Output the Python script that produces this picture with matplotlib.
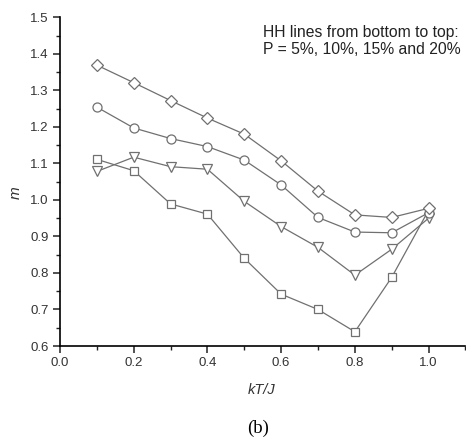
import matplotlib
matplotlib.use("Agg")
import matplotlib.pyplot as plt
from matplotlib.ticker import MultipleLocator, FormatStrFormatter

plt.rcParams['font.family'] = ['Liberation Sans', 'DejaVu Sans']

kT = [0.1, 0.2, 0.3, 0.4, 0.5, 0.6, 0.7, 0.8, 0.9, 1.0]
m_p5 = [1.111, 1.080, 0.989, 0.961, 0.840, 0.742, 0.700, 0.639, 0.788, 0.972]
m_p10 = [1.078, 1.117, 1.091, 1.084, 0.996, 0.927, 0.870, 0.794, 0.865, 0.950]
m_p15 = [1.254, 1.197, 1.168, 1.146, 1.109, 1.041, 0.952, 0.912, 0.910, 0.965]
m_p20 = [1.369, 1.321, 1.272, 1.224, 1.180, 1.107, 1.024, 0.959, 0.952, 0.977]

fig = plt.figure(figsize=(4.66, 4.41), dpi=100)
ax = fig.add_axes([0.1288, 0.2154, 0.8700, 0.7454])

lc = '#707070'
style = dict(color=lc, lw=0.9, markerfacecolor='white', markeredgecolor=lc,
             markeredgewidth=0.9)
ax.plot(kT, m_p5, marker='s', ms=6, **style)
ax.plot(kT, m_p10, marker='v', ms=7, **style)
ax.plot(kT, m_p15, marker='o', ms=6.5, **style)
ax.plot(kT, m_p20, marker='D', ms=6, **style)

ax.set_xlim(0.0, 1.1)
ax.set_ylim(0.6, 1.5)
ax.xaxis.set_major_locator(MultipleLocator(0.2))
ax.xaxis.set_minor_locator(MultipleLocator(0.1))
ax.yaxis.set_major_locator(MultipleLocator(0.1))
ax.yaxis.set_minor_locator(MultipleLocator(0.05))
ax.xaxis.set_major_formatter(FormatStrFormatter('%.1f'))
ax.yaxis.set_major_formatter(FormatStrFormatter('%.1f'))

for s in ['top', 'right']:
    ax.spines[s].set_visible(False)
for s in ['left', 'bottom']:
    ax.spines[s].set_linewidth(1.2)
ax.tick_params(which='major', direction='out', length=5, width=1.1,
               labelsize=9.5, colors='#222222', labelcolor='#333333', pad=3)
ax.tick_params(which='minor', direction='out', length=3, width=1.0, colors='#222222')

fig.text(262 / 466, 1 - 390 / 441, 'kT/J', style='italic', fontsize=10.5,
         color='#333333', ha='center', va='center')
fig.text(16 / 466, 1 - 193 / 441, 'm', style='italic', fontsize=11,
         color='#333333', ha='center', va='center', rotation=90)

fig.text(263 / 466, 1 - 25 / 441, 'HH lines from bottom to top:\nP = 5%, 10%, 15% and 20%',
         ha='left', va='top', fontsize=11.3, color='#222222', linespacing=1.2)

fig.text(258 / 466, 1 - 428 / 441, '(b)', ha='center', va='center',
         fontsize=13.5, family=['Liberation Serif', 'DejaVu Serif'], color='black')

fig.savefig('out.png', dpi=100)
